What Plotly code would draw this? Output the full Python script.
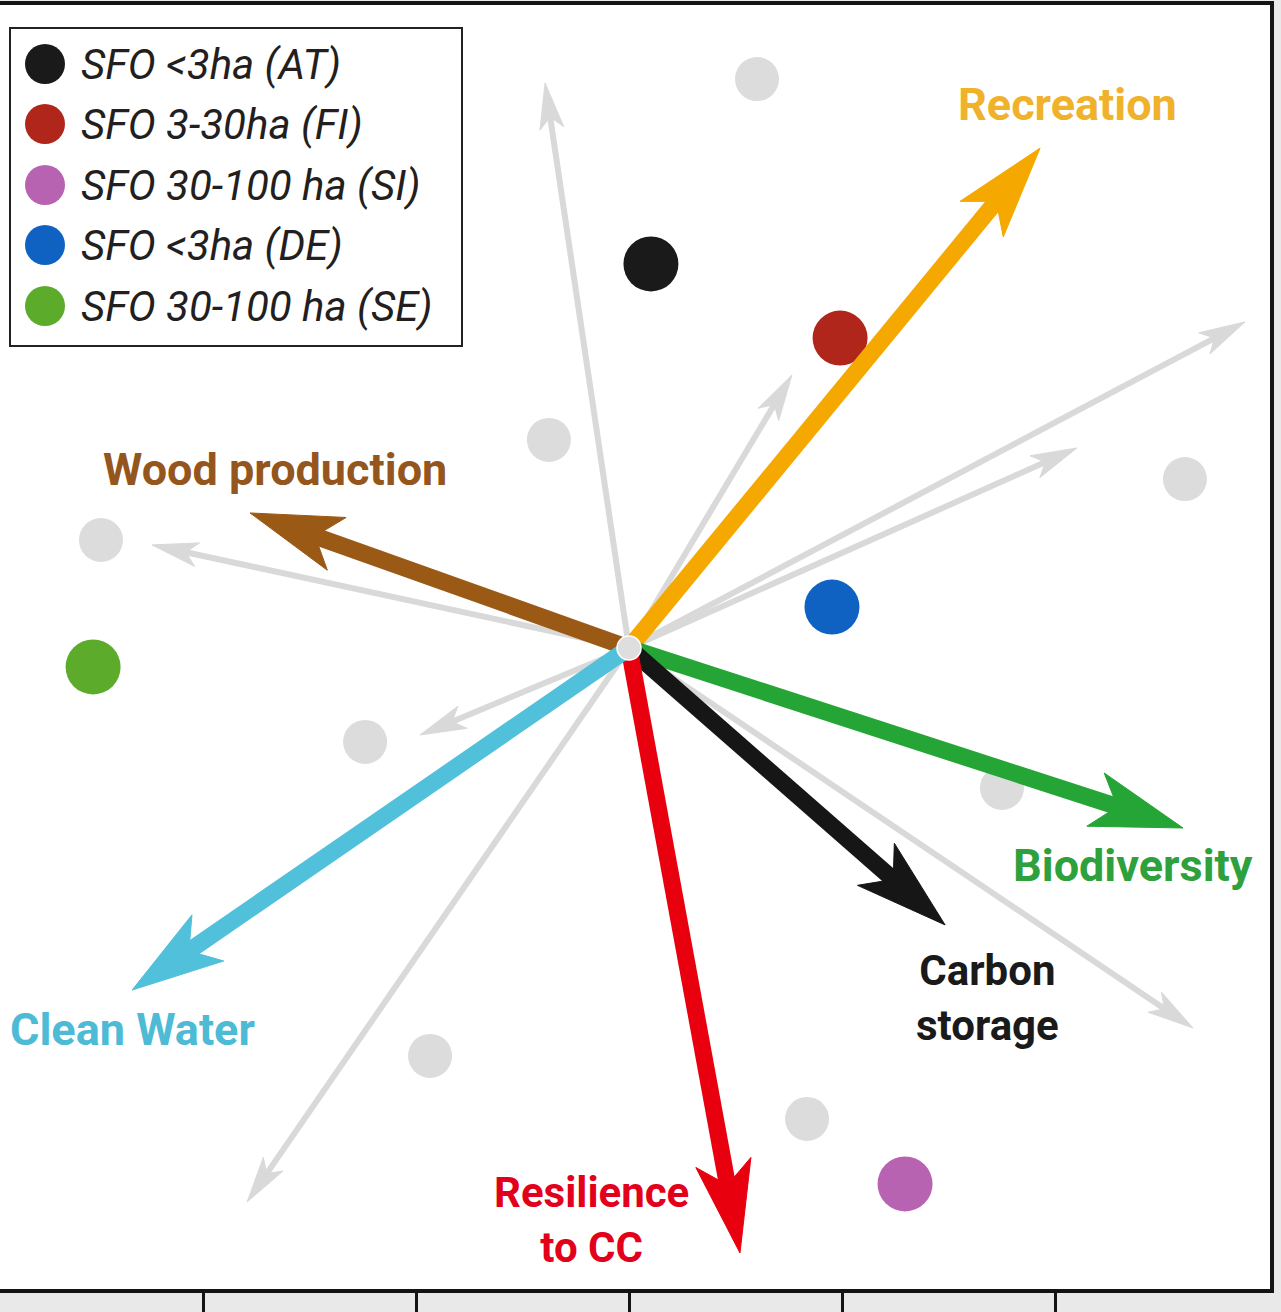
import numpy as np
import plotly.graph_objects as go

# ---------------- data ----------------
services = ["Recreation", "Wood production", "Biodiversity", "Carbon storage", "Resilience to CC", "Clean Water"]
service_labels = ["Recreation", "Wood production", "Biodiversity", "Carbon<br>storage", "Resilience<br>to CC", "Clean Water"]
service_x = [1.930, -1.779, 2.601, 1.484, 0.521, -2.333]
service_y = [2.347, 0.634, -0.845, -1.300, -2.840, -1.606]

other_var_x = [-0.394, 0.765, 2.892, 2.103, -2.239, -0.981, -1.793, 2.648]
other_var_y = [2.653, 1.282, 1.531, 0.939, 0.484, -0.408, -2.601, -1.784]

sfo_types = ["SFO <3ha (AT)", "SFO 3-30ha (FI)", "SFO 30-100 ha (SI)", "SFO <3ha (DE)", "SFO 30-100 ha (SE)"]
sfo_x = [0.103, 0.991, 1.296, 0.953, -2.516]
sfo_y = [1.803, 1.455, -2.516, 0.192, -0.089]

other_sfo_x = [0.601, -0.376, 2.610, -2.479, -1.239, 1.751, -0.934, 0.836]
other_sfo_y = [2.671, 0.977, 0.793, 0.507, -0.441, -0.657, -1.915, -2.211]

x_ticks = [-2, -1, 0, 1, 2]

# ---------------- styles / layout ----------------
service_colors = ["#F5A800", "#9A5A16", "#24A536", "#161616", "#E8000F", "#50C0DB"]
label_colors = ["#F0B22A", "#94561C", "#2EA03C", "#1A1A1A", "#E3001B", "#4DBBD5"]
label_pos_x = [2.061, -1.662, 2.366, 1.685, -0.174, -2.333]
label_pos_y = [2.554, 0.836, -1.023, -1.643, -2.685, -1.793]
label_sizes = [45, 45, 45, 42, 42, 45]
sfo_colors = ["#1A1A1A", "#B0261A", "#B862B2", "#1062C2", "#5CAB2A"]
grey = "#D9D9D9"

W_FIG, H_FIG = 1281, 1312
M_L, M_R, M_T, M_B = 0, 11, 5, 23
PW, PH = W_FIG - M_L - M_R, H_FIG - M_T - M_B
ORIG_PX, ORIG_PY = 629, 648
UNIT = 213.0  # px per data unit
x_range = [(0 - ORIG_PX) / UNIT, (PW - ORIG_PX) / UNIT]
y_range = [(ORIG_PY - M_T - PH) / UNIT, (ORIG_PY - M_T) / UNIT]

FONT = "Roboto, Arial, sans-serif"


def arrow_traces(tx, ty, color, shaft_px, head_len_px, head_hw_px, notch=0.25):
    t = np.array([tx, ty], dtype=float)
    u = t / np.linalg.norm(t)
    n = np.array([-u[1], u[0]])
    L = head_len_px / UNIT
    hw = head_hw_px / UNIT
    base = t - L * u
    left = base + hw * n
    right = base - hw * n
    nt = t - L * (1 - notch) * u
    shaft = go.Scatter(x=[0, nt[0]], y=[0, nt[1]], mode="lines",
                       line=dict(color=color, width=shaft_px), hoverinfo="skip", showlegend=False)
    head = go.Scatter(x=[t[0], left[0], nt[0], right[0], t[0]],
                      y=[t[1], left[1], nt[1], right[1], t[1]],
                      mode="lines", fill="toself", fillcolor=color,
                      line=dict(color=color, width=1), hoverinfo="skip", showlegend=False)
    return [shaft, head]


fig = go.Figure()

# grey (other variables) arrows
for gx, gy in zip(other_var_x, other_var_y):
    for tr in arrow_traces(gx, gy, grey, 6, 46, 12):
        fig.add_trace(tr)

# grey points (other SFO types)
fig.add_trace(go.Scatter(x=other_sfo_x, y=other_sfo_y, mode="markers",
                         marker=dict(size=44, color="#DCDCDC"), showlegend=False, hoverinfo="skip"))

# highlighted SFO types
for name, xx, yy, c in zip(sfo_types, sfo_x, sfo_y, sfo_colors):
    fig.add_trace(go.Scatter(x=[xx], y=[yy], mode="markers", name=name,
                             marker=dict(size=55, color=c), showlegend=False))

# coloured service arrows
for sx, sy, c in zip(service_x, service_y, service_colors):
    for tr in arrow_traces(sx, sy, c, 17, 92, 28):
        fig.add_trace(tr)

# centre point
fig.add_trace(go.Scatter(x=[0], y=[0], mode="markers",
                         marker=dict(size=24, color="#DEDEDE", line=dict(color="white", width=1.5)),
                         showlegend=False, hoverinfo="skip"))

# service labels
for lab, lx, ly, c, fs in zip(service_labels, label_pos_x, label_pos_y, label_colors, label_sizes):
    fig.add_annotation(x=lx, y=ly, xref="x", yref="y", text=lab, showarrow=False,
                       font=dict(family=FONT, size=fs, color=c, weight="bold"),
                       xanchor="center", yanchor="middle", align="center")

# ---------------- manual legend (paper coords from pixels) ----------------
def pxx(px):
    return (px - M_L) / PW


def pxy(py):
    return 1 - (py - M_T) / PH


fig.add_shape(type="rect", xref="paper", yref="paper",
              x0=pxx(10), x1=pxx(462), y0=pxy(346), y1=pxy(28),
              line=dict(color="#222222", width=2), fillcolor="white", layer="above")
leg_rows = [64, 124, 185, 245, 306]
for name, c, ry in zip(sfo_types, sfo_colors, leg_rows):
    fig.add_shape(type="circle", xref="paper", yref="paper",
                  x0=pxx(45 - 20), x1=pxx(45 + 20), y0=pxy(ry + 20), y1=pxy(ry - 20),
                  line=dict(width=0), fillcolor=c, layer="above")
    fig.add_annotation(xref="paper", yref="paper", x=pxx(79), y=pxy(ry), text=name,
                       showarrow=False, xanchor="left", yanchor="middle",
                       font=dict(family=FONT, size=42, color="#231F20", style="italic"))

fig.update_layout(
    width=W_FIG, height=H_FIG,
    margin=dict(l=M_L, r=M_R, t=M_T, b=M_B, pad=0),
    paper_bgcolor="#E9E9E9", plot_bgcolor="white",
    showlegend=False,
    xaxis=dict(range=x_range, showgrid=False, zeroline=False, showticklabels=False,
               tickvals=x_ticks, ticks="outside", ticklen=23, tickwidth=3, tickcolor="#141414",
               showline=True, linecolor="#141414", linewidth=4, mirror=True, fixedrange=True),
    yaxis=dict(range=y_range, showgrid=False, zeroline=False, showticklabels=False,
               ticks="", side="right", showline=True, linecolor="#141414", linewidth=4,
               mirror=False, fixedrange=True),
)

fig.write_html("out.html", config={"displayModeBar": False},
               post_script="document.body.style.margin='0';")
